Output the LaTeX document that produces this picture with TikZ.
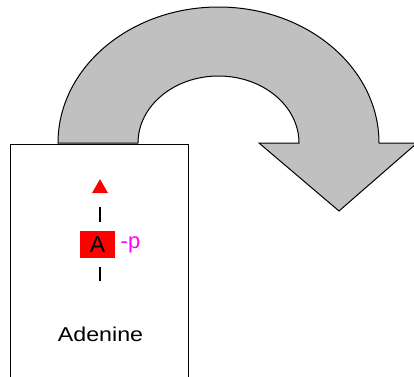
\documentclass[tikz,border=0pt]{standalone}
\usepackage{fontspec}
\setmainfont{Liberation Sans}
\usepackage{tikz}
\usetikzlibrary{shapes.geometric}
\definecolor{arrowgray}{HTML}{C0C0C0}
\definecolor{pmagenta}{HTML}{FF00FF}

\begin{document}
\begin{tikzpicture}[x=1pt,y=1pt]
\useasboundingbox (0,0) rectangle (414,-376);
% big curved arrow
\path[fill=arrowgray,draw=black,line width=1pt,line join=miter]
(58,-143) arc[start angle=180,end angle=0,x radius=160.5,y radius=136]
-- (417,-143) -- (339,-211) -- (259,-143) -- (299,-143)
arc[start angle=0,end angle=180,x radius=80.5,y radius=67] -- cycle;
% box
\node[draw,fill=white,line width=1.8pt,minimum width=178pt,minimum height=236pt,inner sep=0pt,anchor=north west] (box) at (9.5,-143.5) {};
\node[regular polygon,regular polygon sides=3,fill=red,inner sep=0pt,minimum size=18.5pt] (tri) at (100,-188.4) {};
\node[fill=red,minimum width=35pt,minimum height=27pt,inner sep=0pt,font=\fontsize{23}{25}\selectfont] (A) at (97.5,-244.5) {A};
\node[anchor=west,inner sep=0pt,text=pmagenta,font=\fontsize{22}{24}\selectfont] (p) at (120.5,-245) {-p};
\coordinate (end) at (100,-281);
\node[font=\fontsize{20}{22}\selectfont,xscale=1.16] (name) at (100.5,-334) {Adenine};
\path[line width=1.5pt]
(tri.south) edge[shorten <=14pt,shorten >=9pt] (tri.south |- A.north)
(end |- A.south) edge[shorten <=9pt] (end);
\end{tikzpicture}
\end{document}
